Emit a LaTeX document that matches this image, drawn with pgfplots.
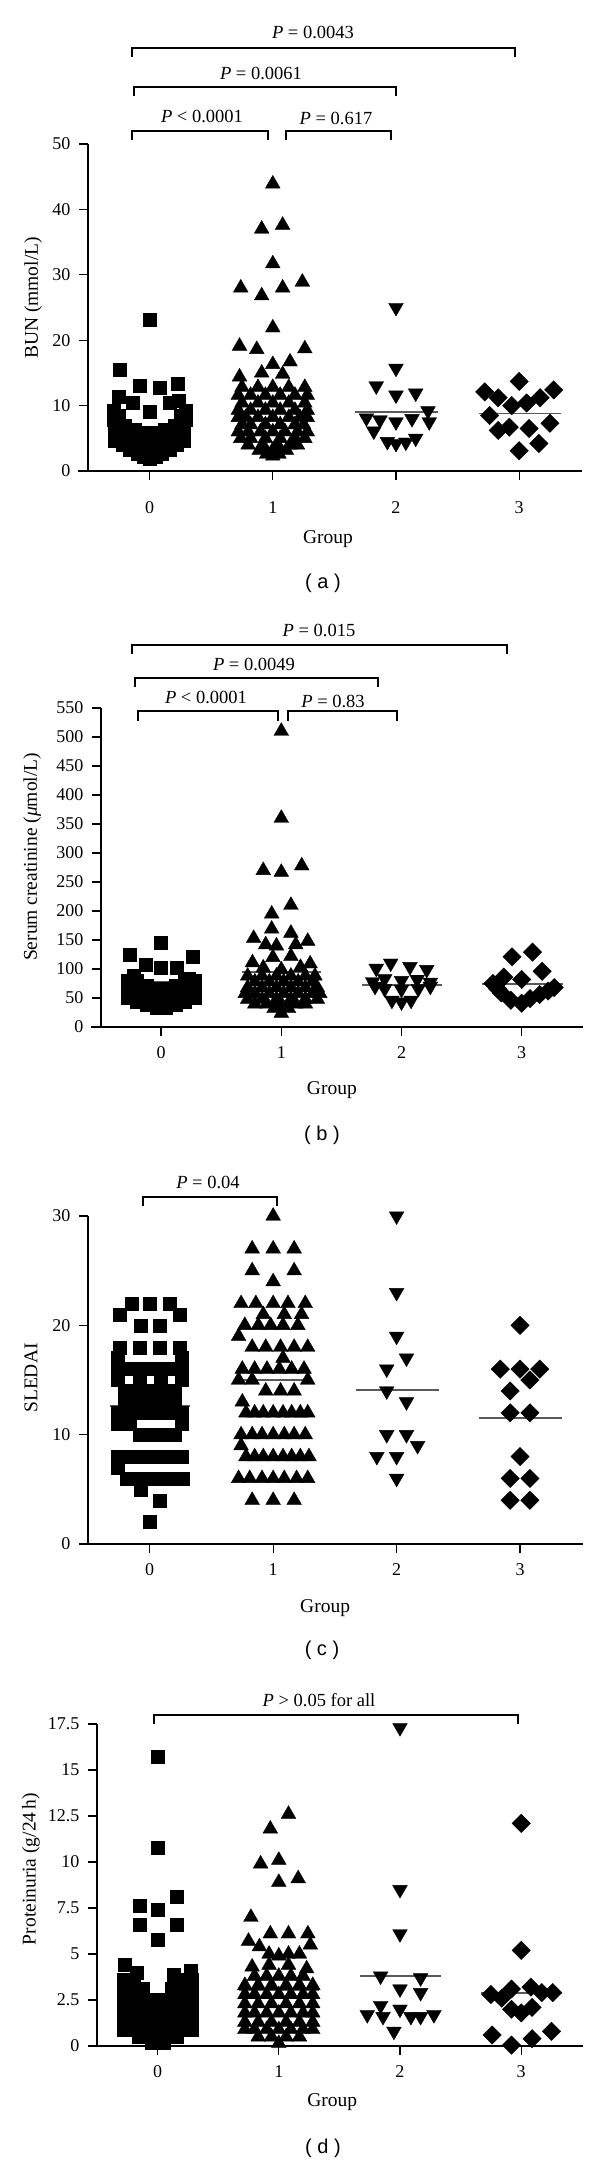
\documentclass[border=0pt]{standalone}
\usepackage{pgfplots}
\pgfplotsset{compat=1.18}
\usepackage{fontspec}
\setmainfont{Liberation Serif}
\newfontfamily\capfont{Liberation Sans}
\newcommand\tk{\fontsize{18pt}{21pt}\selectfont}
\newcommand\lb{\fontsize{19.5pt}{23pt}\selectfont}
\newcommand\pv{\fontsize{18.5pt}{22pt}\selectfont}
\newcommand\cp{\capfont\fontsize{20pt}{24pt}\selectfont}
\pgfplotsset{
  panel/.style={
    scale only axis, clip=false,
    axis x line=bottom, axis y line=left,
    axis line style={line width=1.3pt,-},
    tick style={line width=1.3pt,black},
    tick align=outside, major tick length=9pt,
    xmin=-0.5, xmax=3.51, ymin=0,
    xtick={0,1,2,3},
    tick label style={font=\tk},
    yticklabel style={xshift=-5pt},
    xticklabel style={yshift=-7pt},
    /pgf/number format/assume math mode=true,
    label style={font=\lb},
    xlabel={Group},
  },
  g0/.style={only marks, mark=square*, mark size=6.5pt, black},
  g1/.style={only marks, mark=triangle*, mark size=8.5pt, black},
  g2/.style={only marks, mark=triangle*, mark size=8.5pt, black, mark options={rotate=180}},
  g3/.style={only marks, mark=square*, mark size=6.5pt, black, mark options={rotate=45}},
  med/.style={black!65, line width=1.6pt, no marks},
}
\tikzset{br/.style={line width=1.3pt}, pt/.style={font=\pv, text depth=0pt, inner sep=0pt}}
\begin{document}
\begin{tikzpicture}
\useasboundingbox (0,0) rectangle (600pt,-2163pt);
% ---------------- panel (a) ----------------
\begin{axis}[panel, at={(88pt,-471pt)}, anchor=south west, width=494pt, height=327pt,
  ymax=50, ytick={0,10,20,30,40,50}, xticklabel style={yshift=-11pt},
  xlabel style={at={(axis description cs:0.486,-0.208)}, anchor=center},
  ylabel={BUN (mmol/L)}, ylabel style={at={(axis description cs:-0.111,0.529)}, anchor=center}]
\addplot[g0] coordinates {
(0,23.1) (-0.24,15.5) (-0.08,13.1) (0.08,12.8) (0.23,13.4) (-0.25,11.3) (0.24,10.8) (-0.14,10.4) (0.16,10.4) (0,9.0)
(-0.29,9.2) (0.29,9.2) (-0.25,8.4) (0.25,8.4) (-0.29,7.8) (0.29,7.8)
(-0.28,7.0) (-0.2,7.0) (0.2,7.0) (0.28,7.0)
(-0.28,6.3) (-0.2,6.3) (-0.12,6.3) (0.12,6.3) (0.2,6.3) (0.28,6.3)
(-0.04,5.8) (0.04,5.8)
(-0.28,5.3) (-0.2,5.3) (-0.12,5.3) (-0.04,5.3) (0.04,5.3) (0.12,5.3) (0.2,5.3) (0.28,5.3)
(-0.28,4.6) (-0.2,4.6) (-0.12,4.6) (-0.04,4.6) (0.04,4.6) (0.12,4.6) (0.2,4.6) (0.28,4.6)
(-0.22,4.0) (-0.14,4.0) (-0.06,4.0) (0.06,4.0) (0.14,4.0) (0.22,4.0)
(-0.16,3.3) (-0.08,3.3) (0,3.3) (0.08,3.3) (0.16,3.3)
(-0.1,2.7) (0,2.7) (0.1,2.7) (-0.05,2.2) (0.05,2.2) (0,1.9)};
\addplot[g1] coordinates {
(1,43.9) (0.91,37.0) (1.08,37.6) (1,31.7) (0.74,28.0) (0.91,26.8) (1.08,28.0) (1.24,28.9) (1,21.9)
(0.73,19.1) (0.87,18.6) (1.26,18.7) (1,16.3) (1.14,16.7) (0.91,15.0) (1.08,14.8) (0.73,14.4)
(0.75,12.8) (0.88,12.8) (1.0,12.8) (1.13,12.8) (1.26,12.8)
(0.72,11.6) (0.82,11.6) (0.94,11.6) (1.06,11.6) (1.18,11.6) (1.28,11.6)
(0.75,10.4) (0.88,10.4) (1.0,10.4) (1.13,10.4) (1.26,10.4)
(0.72,9.3) (0.82,9.3) (0.94,9.3) (1.06,9.3) (1.18,9.3) (1.28,9.3)
(0.72,8.2) (0.78,8.2) (0.88,8.2) (1.0,8.2) (1.13,8.2) (1.22,8.2) (1.28,8.2)
(0.75,7.1) (0.82,7.1) (0.94,7.1) (1.06,7.1) (1.18,7.1) (1.25,7.1)
(0.72,6.0) (0.8,6.0) (0.9,6.0) (1.0,6.0) (1.1,6.0) (1.2,6.0) (1.28,6.0)
(0.74,5.0) (0.82,5.0) (0.94,5.0) (1.06,5.0) (1.18,5.0) (1.26,5.0)
(0.8,4.0) (0.92,4.0) (1.04,4.0) (1.14,4.0) (1.2,4.0)
(0.89,3.2) (1.0,3.2) (1.11,3.2) (0.95,2.6) (1.05,2.6) (1.0,2.3)};
\addplot[g2] coordinates {
(2,25.0) (2,15.7) (1.84,13.0) (2,11.6) (2.16,11.9) (2.26,9.2) (1.76,8.1) (1.87,7.8) (2,7.5) (2.13,8.0)
(2.27,7.5) (1.82,6.1) (1.93,4.5) (2.0,4.2) (2.08,4.4) (2.16,5.0)};
\addplot[g3] coordinates {
(3,13.7) (2.72,12.1) (3.28,12.4) (2.83,11.2) (3.17,11.2) (2.94,10.0) (3.06,10.4) (2.76,8.5)
(3.25,7.3) (2.83,6.2) (2.92,6.7) (3.08,6.5) (3.16,4.2) (3,3.1)};
\addplot[med] coordinates {(-0.33,6.2) (0.33,6.2)};
\addplot[med] coordinates {(0.72,11.1) (1.33,11.1)};
\addplot[med] coordinates {(1.67,9.0) (2.34,9.0)};
\addplot[med] coordinates {(2.67,8.8) (3.34,8.8)};
\draw[line width=1.3pt] (axis cs:-0.58,0) -- (axis cs:-0.5,0);
\end{axis}
\draw[br] (132pt,-57pt) -- (132pt,-48pt) -- (515pt,-48pt) -- (515pt,-57pt);
\node[pt] at (313pt,-32pt) {\textit{P} = 0.0043};
\draw[br] (134pt,-96pt) -- (134pt,-87pt) -- (396pt,-87pt) -- (396pt,-96pt);
\node[pt] at (261pt,-73pt) {\textit{P} = 0.0061};
\draw[br] (132pt,-140pt) -- (132pt,-131pt) -- (268pt,-131pt) -- (268pt,-140pt);
\node[pt] at (202pt,-116pt) {\textit{P} < 0.0001};
\draw[br] (286pt,-140pt) -- (286pt,-131pt) -- (391pt,-131pt) -- (391pt,-140pt);
\node[pt] at (336pt,-118pt) {\textit{P} = 0.617};
\node[font=\cp] at (323pt,-583pt) {( a )};
% ---------------- panel (b) ----------------
\begin{axis}[panel, at={(101pt,-1027pt)}, anchor=south west, width=482pt, height=319pt,
  ymax=550, ytick={0,50,100,150,200,250,300,350,400,450,500,550},
  xlabel style={at={(axis description cs:0.479,-0.197)}, anchor=center},
  ylabel={Serum creatinine (\textit{μ}mol/L)}, ylabel style={at={(axis description cs:-0.143,0.533)}, anchor=center}]
\addplot[g0] coordinates {
(0,145) (-0.26,124) (0.26,122) (-0.13,108) (0,102) (0.13,102) (-0.23,88) (0.23,84)
(-0.28,80) (-0.2,80) (0.2,80) (0.28,80)
(-0.28,72) (-0.2,72) (-0.12,72) (0.12,72) (0.2,72) (0.28,72)
(-0.28,66) (-0.2,66) (-0.12,66) (-0.04,66) (0.04,66) (0.12,66) (0.2,66) (0.28,66)
(-0.28,58) (-0.2,58) (-0.12,58) (-0.04,58) (0.04,58) (0.12,58) (0.2,58) (0.28,58)
(-0.28,50) (-0.2,50) (-0.12,50) (-0.04,50) (0.04,50) (0.12,50) (0.2,50) (0.28,50)
(-0.2,44) (-0.12,44) (-0.04,44) (0.04,44) (0.12,44) (0.2,44)
(-0.12,39) (-0.04,39) (0.04,39) (0.12,39) (-0.04,34) (0.04,34)};
\addplot[g1] coordinates {
(1,510) (1,360) (0.85,270) (1,267) (1.17,278) (1.08,210) (0.92,195) (0.92,169) (1.08,162) (0.77,153)
(1.22,148) (0.87,142) (0.96,140) (1.12,142) (1.08,122) (0.93,120) (0.76,111) (1.24,109) (0.85,102) (1.16,103) (1,99)
(0.72,88) (0.84,88) (0.96,88) (1.08,88) (1.2,88) (1.28,88)
(0.78,78) (0.9,78) (1.02,78) (1.14,78) (1.26,78)
(0.72,68) (0.84,68) (0.96,68) (1.08,68) (1.2,68) (1.3,68)
(0.7,58) (0.78,58) (0.9,58) (1.02,58) (1.14,58) (1.26,58) (1.32,58)
(0.72,48) (0.84,48) (0.96,48) (1.08,48) (1.2,48) (1.3,48)
(0.78,40) (0.88,40) (1.0,40) (1.12,40) (1.2,40)
(0.94,32) (1.06,32) (1.0,24)};
\addplot[g2] coordinates {
(1.79,101) (1.91,110) (2.07,104) (2.21,99) (1.76,78) (1.86,83) (2,80) (2.13,82) (2.24,77)
(1.86,66) (2,65) (2.14,66) (1.78,70) (2.24,70) (1.92,46) (2,43) (2.08,46)};
\addplot[g3] coordinates {
(3.09,129) (2.92,121) (3.17,96) (3,82) (2.85,86) (2.76,75) (3.27,68) (2.83,59) (2.91,46) (3,41)
(3.07,49) (3.15,56) (3.22,62) (2.8,66)};
\addplot[med] coordinates {(-0.33,78) (0.33,78)};
\addplot[med] coordinates {(0.67,95) (1.33,95)};
\addplot[med] coordinates {(1.67,72.5) (2.34,72.5)};
\addplot[med] coordinates {(2.67,74) (3.34,74)};
\draw[line width=1.3pt] (axis cs:-0.58,0) -- (axis cs:-0.5,0);
\end{axis}
\draw[br] (132pt,-654pt) -- (132pt,-645pt) -- (507pt,-645pt) -- (507pt,-654pt);
\node[pt] at (319pt,-630pt) {\textit{P} = 0.015};
\draw[br] (135pt,-687pt) -- (135pt,-678pt) -- (378pt,-678pt) -- (378pt,-687pt);
\node[pt] at (254pt,-664pt) {\textit{P} = 0.0049};
\draw[br] (138pt,-721pt) -- (138pt,-711pt) -- (278pt,-711pt) -- (278pt,-721pt);
\node[pt] at (206pt,-697pt) {\textit{P} < 0.0001};
\draw[br] (288pt,-721pt) -- (288pt,-711pt) -- (397pt,-711pt) -- (397pt,-721pt);
\node[pt] at (333pt,-701pt) {\textit{P} = 0.83};
\node[font=\cp] at (322pt,-1135pt) {( b )};
% ---------------- panel (c) ----------------
\begin{axis}[panel, at={(88pt,-1544pt)}, anchor=south west, width=495pt, height=328pt,
  ymax=30, ytick={0,10,20,30},
  xlabel style={at={(axis description cs:0.479,-0.195)}, anchor=center},
  ylabel={SLEDAI}, ylabel style={at={(axis description cs:-0.115,0.506)}, anchor=center}]
\addplot[g0] coordinates {
(0,22) (-0.15,22) (0.16,22) (-0.24,21) (0.24,21) (-0.07,20) (0.08,20)
(-0.24,18) (-0.08,18) (0.08,18) (0.24,18) (-0.26,17) (0.26,17)
(-0.26,16) (-0.156,16) (-0.052,16) (0.052,16) (0.156,16) (0.26,16)
(-0.26,15) (-0.08,15) (0.09,15) (0.26,15)
(-0.2,14) (-0.1,14) (0,14) (0.1,14) (0.2,14)
(-0.2,13) (-0.1,13) (0,13) (0.1,13) (0.2,13)
(-0.26,12) (-0.156,12) (-0.052,12) (0.052,12) (0.156,12) (0.26,12)
(-0.26,11) (-0.16,11) (0.26,11)
(-0.08,10) (0.02,10) (0.12,10) (0.2,10)
(-0.26,8) (-0.156,8) (-0.052,8) (0.052,8) (0.156,8) (0.26,8)
(-0.26,7)
(-0.19,6) (-0.09,6) (0.01,6) (0.11,6) (0.21,6) (0.27,6)
(-0.07,5) (0.08,4) (0,2)};
\addplot[g1] coordinates {
(1,30) (0.83,27) (1,27) (1.17,27) (0.83,25) (1.17,25) (1,24)
(0.74,22) (0.86,22) (1,22) (1.12,22) (1.26,22)
(0.92,21) (1.09,21) (1.23,21)
(0.77,20) (0.88,20) (0.98,20) (1.08,20) (1.2,20)
(0.72,19)
(0.83,18) (0.94,18) (1.06,18) (1.17,18) (1.28,18)
(1.08,17)
(0.75,16) (0.85,16) (0.95,16) (1.05,16) (1.15,16) (1.25,16)
(0.72,15) (0.83,15) (1.28,15)
(0.94,14) (1.06,14) (1.17,14)
(0.75,13)
(0.78,12) (0.85,12) (0.92,12) (1,12) (1.08,12) (1.15,12) (1.22,12) (1.28,12)
(0.74,10) (0.83,10) (0.91,10) (1,10) (1.09,10) (1.17,10) (1.26,10)
(0.74,9)
(0.78,8) (0.85,8) (0.92,8) (1,8) (1.08,8) (1.15,8) (1.22,8) (1.29,8)
(0.72,6) (0.81,6) (0.91,6) (1,6) (1.09,6) (1.19,6) (1.28,6)
(0.83,4) (1,4) (1.17,4)};
\addplot[g2] coordinates {
(2,30) (2,23) (2,19) (2.08,17) (1.92,16) (1.92,14) (2.08,13) (1.92,10) (2.08,10) (2.17,9) (1.84,8) (2,8) (2,6)};
\addplot[g3] coordinates {
(3,20) (2.84,16) (3,16) (3.16,16) (3.08,15) (2.92,14) (2.92,12) (3.08,12) (3,8) (2.92,6) (3.08,6) (2.92,4) (3.08,4)};
\addplot[med] coordinates {(-0.32,12.6) (0.33,12.6)};
\addplot[med] coordinates {(0.73,15.0) (1.29,15.0)};
\addplot[med] coordinates {(1.67,14.1) (2.34,14.1)};
\addplot[med] coordinates {(2.67,11.5) (3.34,11.5)};
\draw[line width=1.3pt] (axis cs:-0.57,0) -- (axis cs:-0.5,0);
\end{axis}
\draw[br] (143pt,-1206pt) -- (143pt,-1197pt) -- (277pt,-1197pt) -- (277pt,-1206pt);
\node[pt] at (208pt,-1182pt) {\textit{P} = 0.04};
\node[font=\cp] at (322pt,-1650pt) {( c )};
% ---------------- panel (d) ----------------
\begin{axis}[panel, at={(97pt,-2046pt)}, anchor=south west, width=486pt, height=322pt,
  ymax=17.5, ytick={0,2.5,5,7.5,10,12.5,15,17.5}, yticklabels={0,2.5,5,7.5,10,12.5,15,17.5},
  xlabel style={at={(axis description cs:0.484,-0.174)}, anchor=center},
  ylabel={Proteinuria (g/24\,h)}, ylabel style={at={(axis description cs:-0.136,0.55)}, anchor=center}]
\addplot[g0] coordinates {
(0,15.7) (0,10.8) (-0.15,7.6) (0,7.4) (0.16,8.1) (-0.15,6.6) (0.16,6.6) (0,5.8) (-0.27,4.4) (0.27,4.1)
(-0.17,4.0) (0.13,3.9)
(-0.28,3.6) (-0.2,3.6) (0.2,3.6) (0.28,3.6)
(-0.28,3.1) (-0.2,3.1) (-0.12,3.1) (0.12,3.1) (0.2,3.1) (0.28,3.1)
(-0.28,2.7) (-0.2,2.7) (-0.12,2.7) (0.12,2.7) (0.2,2.7) (0.28,2.7) (-0.04,2.5) (0.04,2.5)
(-0.28,2.2) (-0.2,2.2) (-0.12,2.2) (-0.04,2.2) (0.04,2.2) (0.12,2.2) (0.2,2.2) (0.28,2.2)
(-0.28,1.7) (-0.2,1.7) (-0.12,1.7) (-0.04,1.7) (0.04,1.7) (0.12,1.7) (0.2,1.7) (0.28,1.7)
(-0.28,1.3) (-0.2,1.3) (-0.12,1.3) (-0.04,1.3) (0.04,1.3) (0.12,1.3) (0.2,1.3) (0.28,1.3)
(-0.28,0.9) (-0.2,0.9) (-0.12,0.9) (-0.04,0.9) (0.04,0.9) (0.12,0.9) (0.2,0.9) (0.28,0.9)
(-0.16,0.5) (-0.08,0.5) (0,0.5) (0.08,0.5) (0.16,0.5) (-0.05,0.2) (0.05,0.2)};
\addplot[g1] coordinates {
(1.08,12.6) (0.93,11.8) (1,10.1) (0.85,9.9) (1.16,9.1) (1,8.9) (0.77,7.0) (0.93,6.1) (1.08,6.1) (1.24,6.1)
(0.75,5.7) (1.26,5.5) (0.84,5.4) (0.92,5.0) (1,4.9) (1.08,5.0) (1.17,5.0) (0.78,4.3) (1.23,4.2) (0.92,4.4) (1.08,4.4)
(0.8,3.8) (0.9,3.8) (1.0,3.8) (1.1,3.8) (1.2,3.8)
(0.72,3.3) (0.83,3.3) (0.94,3.3) (1.06,3.3) (1.17,3.3) (1.28,3.3)
(0.72,2.8) (0.8,2.8) (0.9,2.8) (1.0,2.8) (1.1,2.8) (1.2,2.8) (1.28,2.8)
(0.72,2.3) (0.83,2.3) (0.94,2.3) (1.06,2.3) (1.17,2.3) (1.28,2.3)
(0.72,1.8) (0.8,1.8) (0.9,1.8) (1.0,1.8) (1.1,1.8) (1.2,1.8) (1.28,1.8)
(0.72,1.3) (0.83,1.3) (0.94,1.3) (1.06,1.3) (1.17,1.3) (1.28,1.3)
(0.72,0.9) (0.8,0.9) (0.9,0.9) (1.0,0.9) (1.1,0.9) (1.2,0.9) (1.28,0.9)
(0.83,0.5) (0.94,0.5) (1.06,0.5) (1.17,0.5) (1.0,0.15)};
\addplot[g2] coordinates {
(2,17.3) (2,8.5) (2,6.1) (1.84,3.8) (2.17,3.7) (2,3.1) (2.17,2.9) (1.84,2.2) (2,2.0) (2.09,1.6)
(1.73,1.7) (1.86,1.6) (2.17,1.6) (2.28,1.7) (1.95,0.8)};
\addplot[g3] coordinates {
(3,12.1) (3,5.2) (2.75,2.8) (2.84,2.6) (2.92,3.1) (3.08,3.2) (3.17,2.9) (3.26,2.9) (2.92,2.0) (3,1.8)
(3.09,2.1) (2.76,0.6) (3.25,0.8) (3.09,0.4) (2.92,0.05)};
\addplot[med] coordinates {(-0.33,2.7) (0.33,2.7)};
\addplot[med] coordinates {(0.67,3.05) (1.33,3.05)};
\addplot[med] coordinates {(1.67,3.8) (2.34,3.8)};
\addplot[med] coordinates {(2.67,2.87) (3.34,2.87)};
\draw[line width=1.3pt] (axis cs:-0.57,0) -- (axis cs:-0.5,0);
\end{axis}
\draw[br] (154pt,-1724pt) -- (154pt,-1715pt) -- (518pt,-1715pt) -- (518pt,-1724pt);
\node[pt] at (319pt,-1700pt) {\textit{P} > 0.05 for all};
\node[font=\cp] at (323pt,-2148pt) {( d )};
\end{tikzpicture}
\end{document}
